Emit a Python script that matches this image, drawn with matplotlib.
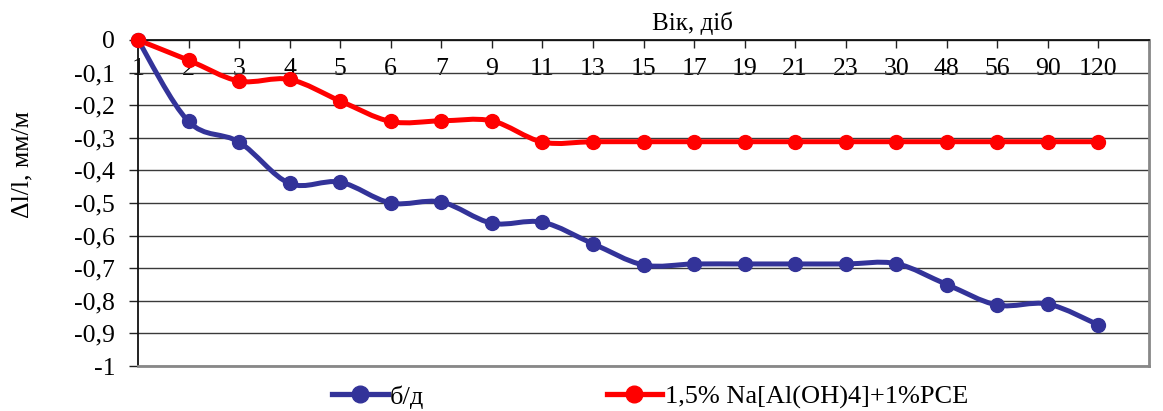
import matplotlib
matplotlib.use("Agg")
import matplotlib.pyplot as plt
import matplotlib.lines as mlines
from matplotlib.path import Path
from matplotlib.patches import PathPatch
import numpy as np

# ---------------------------------------------------------------------------
# Data
# ---------------------------------------------------------------------------
AGE_DAYS = ["1", "2", "3", "4", "5", "6", "7", "9", "11", "13", "15", "17",
            "19", "21", "23", "30", "48", "56", "90", "120"]
PLAIN = [0, -0.25, -0.313, -0.44, -0.436, -0.50, -0.497, -0.562, -0.559,
         -0.625, -0.690, -0.687, -0.687, -0.687, -0.687, -0.686, -0.750,
         -0.813, -0.810, -0.874]
ADDITIVE = [0, -0.062, -0.126, -0.121, -0.187, -0.250, -0.248, -0.248,
            -0.313, -0.312, -0.312, -0.312, -0.312, -0.312, -0.312, -0.312,
            -0.312, -0.312, -0.312, -0.312]

LABEL_PLAIN = "б/д"
LABEL_ADD = "1,5% Na[Al(OH)4]+1%PCE"

BLUE = "#333399"
RED = "#FF0000"

plt.rcParams["font.family"] = ["Liberation Serif", "DejaVu Serif"]
FS_TICK = 18.5
FS_TITLE = 18
FS_LEGEND = 19


def smooth_path(xs, ys):
    """Excel-like smoothed line: cubic Bezier through every point."""
    pts = np.column_stack([xs, ys]).astype(float)
    n = len(pts)
    verts = [pts[0]]
    codes = [Path.MOVETO]
    for i in range(n - 1):
        p0 = pts[i - 1] if i > 0 else pts[i]
        p1 = pts[i]
        p2 = pts[i + 1]
        p3 = pts[i + 2] if i + 2 < n else pts[i + 1]
        c1 = p1 + (p2 - p0) / 6.0
        c2 = p2 - (p3 - p1) / 6.0
        verts += [c1, c2, p2]
        codes += [Path.CURVE4] * 3
    return Path(verts, codes)


W, H = 1163, 411
fig = plt.figure(figsize=(W / 100, H / 100), dpi=100)
ax = fig.add_axes([138 / W, 1 - 366 / H, (1149 - 138) / W, (366 - 40) / H])

x = np.arange(len(AGE_DAYS))

# grid
ax.set_ylim(-1, 0)
ax.set_xlim(0, len(AGE_DAYS))
yt = np.round(np.arange(-1, 0.001, 0.1), 1)
ax.set_yticks(yt)
ax.set_yticklabels(["0" if v == 0 else ("-1" if v == -1 else f"{v:.1f}".replace(".", ",")) for v in yt],
                   fontsize=FS_TICK)
ax.grid(axis="y", color="#3a3a3a", linewidth=1.0, zorder=0)

for series, color in [(PLAIN, BLUE), (ADDITIVE, RED)]:
    ax.add_patch(PathPatch(smooth_path(x, series), fill=False, edgecolor=color,
                           linewidth=3.6, zorder=3, capstyle="round"))
    ax.plot(x, series, linestyle="None", marker="o", markersize=10,
            color=color, zorder=4, clip_on=False)

# x axis at the top (y = 0), labels just below it
ax.set_xticks(np.arange(len(AGE_DAYS) + 1))
ax.set_xticklabels(AGE_DAYS + [""], fontsize=FS_TICK)
ax.tick_params(axis="x", top=True, bottom=False, labeltop=True, labelbottom=False,
               direction="in", length=6, width=1, pad=-29, color="#222222")
ax.tick_params(axis="y", direction="out", length=6.5, width=1, color="#222222", pad=10)

for side in ["top", "left"]:
    ax.spines[side].set_color("#111111")
    ax.spines[side].set_linewidth(1.3)
for side in ["bottom", "right"]:
    ax.spines[side].set_color("#888888")
    ax.spines[side].set_linewidth(2)

fig.text(692 / W, 1 - 23 / H, "Вік, діб", fontsize=FS_TITLE, ha="center", va="center")
fig.text(22 / W, 1 - 165 / H, "Δl/l, мм/м", fontsize=FS_TICK, rotation=90,
         ha="center", va="center")

handles = [
    mlines.Line2D([], [], color=BLUE, marker="o", markersize=12, linewidth=3.8,
                  label=LABEL_PLAIN),
    mlines.Line2D([], [], color=RED, marker="o", markersize=12, linewidth=3.8,
                  label=LABEL_ADD),
]
fig.legend(handles=handles, loc="center", bbox_to_anchor=(650 / W, 1 - 397 / H),
           ncol=2, frameon=False, fontsize=FS_LEGEND, handlelength=2.1,
           handletextpad=0.1, columnspacing=6.9, borderaxespad=0)

fig.savefig("out.png", dpi=100)
